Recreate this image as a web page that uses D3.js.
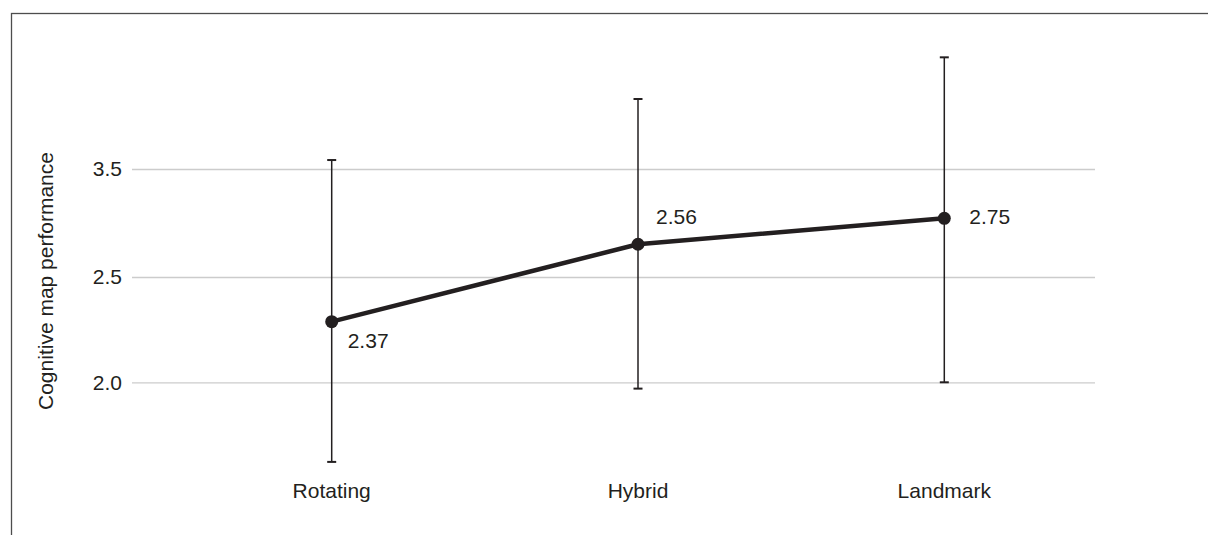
<!DOCTYPE html>
<html>
<head>
<meta charset="utf-8">
<script src="https://cdn.jsdelivr.net/npm/d3@7"></script>
<style>
  html, body { margin: 0; padding: 0; background: #fff; }
  svg { display: block; }
  text { font-family: "Liberation Sans", Arial, Helvetica, sans-serif; fill: #231f20; }
</style>
</head>
<body>
<svg id="chart" width="1208" height="535"></svg>
<script>
// ---- data (in the units of the labelled axis) ----
const categories = ["Rotating", "Hybrid", "Landmark"];
const meanPositions = [2.288, 2.803, 3.043];      // plotted point positions
const meanLabels = ["2.37", "2.56", "2.75"];       // printed value labels
const errorLow = [1.622, 1.970, 2.000];
const errorHigh = [3.583, 4.148, 4.534];
const yTickValues = [2.0, 2.5, 3.5];
const yTickLabels = ["2.0", "2.5", "3.5"];
const yTitle = "Cognitive map performance";

// ---- layout ----
const svg = d3.select("#chart");
const gridLeft = 132, gridRight = 1095;
const fontSize = 21;
const ink = "#231f20";

const x = d3.scalePoint().domain(categories).range([331.7, 944.3]);
// axis as printed: gridlines are evenly spaced although labels are 2.0, 2.5, 3.5
const y = d3.scaleLinear().domain(yTickValues).range([382.3, 277, 169]);

// frame (left and top borders visible)
svg.append("rect")
  .attr("x", 11.5).attr("y", 13.5)
  .attr("width", 1400).attr("height", 700)
  .attr("fill", "none").attr("stroke", "#4d4d4d").attr("stroke-width", 1.3);

// gridlines + tick labels via axis
const yAxis = d3.axisLeft(y)
  .tickValues(yTickValues)
  .tickFormat((d, i) => yTickLabels[i])
  .tickSize(-(gridRight - gridLeft))
  .tickPadding(10);

const gAxis = svg.append("g")
  .attr("transform", `translate(${gridLeft},0)`)
  .call(yAxis);
gAxis.select(".domain").remove();
gAxis.selectAll(".tick line").attr("stroke", "#cccccc").attr("stroke-width", 1.3);
gAxis.selectAll(".tick text")
  .attr("font-size", fontSize)
  .attr("font-family", "\"Liberation Sans\", Arial, sans-serif")
  .attr("fill", ink)
  .attr("x", -10);

// y title
svg.append("text")
  .attr("transform", `translate(53,281) rotate(-90)`)
  .attr("text-anchor", "middle")
  .attr("font-size", fontSize)
  .text(yTitle);

// x category labels
svg.selectAll(".cat")
  .data(categories)
  .join("text")
  .attr("class", "cat")
  .attr("x", d => x(d))
  .attr("y", 498)
  .attr("text-anchor", "middle")
  .attr("font-size", fontSize)
  .text(d => d);

// error bars
const eb = svg.append("g");
categories.forEach((c, i) => {
  const cx = x(c);
  eb.append("line")
    .attr("x1", cx).attr("x2", cx)
    .attr("y1", y(errorHigh[i])).attr("y2", y(errorLow[i]))
    .attr("stroke", ink).attr("stroke-width", 1.5);
  [errorHigh[i], errorLow[i]].forEach(v => {
    eb.append("line")
      .attr("x1", cx - 4.5).attr("x2", cx + 4.5)
      .attr("y1", y(v)).attr("y2", y(v))
      .attr("stroke", ink).attr("stroke-width", 2);
  });
});

// mean line
const pts = categories.map((c, i) => [x(c), y(meanPositions[i])]);
svg.append("path")
  .attr("d", d3.line()(pts))
  .attr("fill", "none")
  .attr("stroke", ink)
  .attr("stroke-width", 4.5)
  .attr("stroke-linejoin", "round");

svg.selectAll(".dot")
  .data(pts)
  .join("circle")
  .attr("class", "dot")
  .attr("cx", d => d[0]).attr("cy", d => d[1])
  .attr("r", 6.5)
  .attr("fill", ink);

// value labels
const labelOffsets = [[16, 26], [18, -20], [25, 6]];
svg.selectAll(".val")
  .data(categories)
  .join("text")
  .attr("class", "val")
  .attr("x", (d, i) => x(d) + labelOffsets[i][0])
  .attr("y", (d, i) => y(meanPositions[i]) + labelOffsets[i][1])
  .attr("font-size", fontSize)
  .text((d, i) => meanLabels[i]);
</script>
</body>
</html>
